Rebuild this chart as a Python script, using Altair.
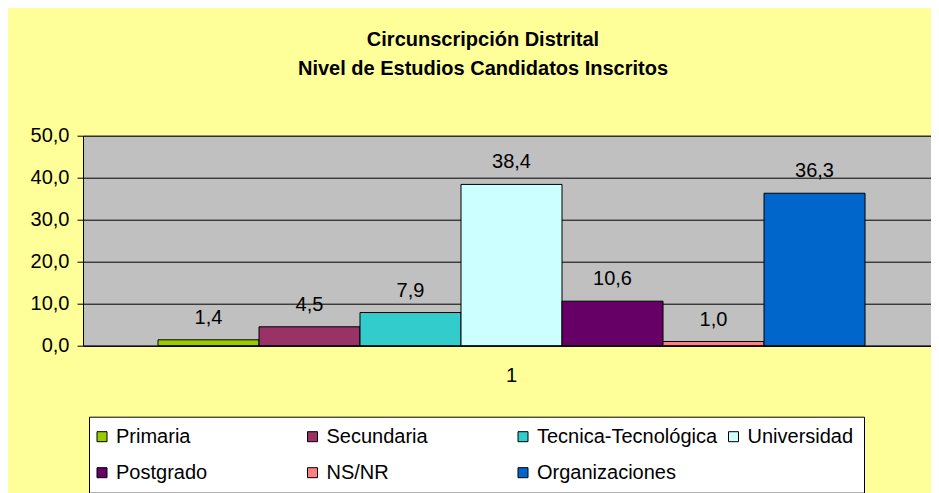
import altair as alt
import pandas as pd

# ---- data ----
categories = ["Primaria", "Secundaria", "Tecnica-Tecnológica", "Universidad",
              "Postgrado", "NS/NR", "Organizaciones"]
values = [1.4, 4.5, 7.9, 38.4, 10.6, 1.0, 36.3]
colors = ["#99CC00", "#993366", "#33CCCC", "#CCFFFF", "#660066", "#FF8080", "#0066CC"]
group_label = ["1"] * len(categories)
y_ticks = [0, 10, 20, 30, 40, 50]
title_lines = ["Circunscripción Distrital", "Nivel de Estudios Candidatos Inscritos"]

df = pd.DataFrame({"grupo": group_label, "nivel": categories, "valor": values})

FONT = "Liberation Sans"

base = alt.Chart(df).encode(
    x=alt.X(
        "grupo:N",
        scale=alt.Scale(paddingInner=0, paddingOuter=0.0997, align=0.532),
        axis=alt.Axis(title=None, labelAngle=0, ticks=False, labelPadding=20,
                      domainColor="black", labelFontSize=20, labelColor="black"),
    ),
    xOffset=alt.XOffset(
        "nivel:N", sort=categories,
        scale=alt.Scale(domain=categories, paddingInner=0, paddingOuter=0),
    ),
)

bars = base.mark_bar(stroke="black", strokeWidth=1).encode(
    y=alt.Y(
        "valor:Q",
        scale=alt.Scale(domain=[0, 50]),
        axis=alt.Axis(values=y_ticks, title=None, grid=True, gridColor="black",
                      gridWidth=1, gridOpacity=1, tickSize=6, tickColor="black",
                      domainColor="black", labelPadding=8, labelFontSize=20,
                      labelColor="black",
                      labelExpr="replace(format(datum.value, '.1f'), '.', ',')"),
    ),
    color=alt.Color(
        "nivel:N",
        scale=alt.Scale(domain=categories, range=colors),
        legend=alt.Legend(
            title=None, orient="none", legendX=6, legendY=281, columns=4,
            direction="horizontal",
            gridAlign="all", symbolType="square", symbolSize=100,
            symbolStrokeColor="black", symbolStrokeWidth=1, symbolOpacity=1,
            symbolOffset=-7,
            labelFontSize=20, labelOffset=4, labelLimit=400, labelColor="black",
            columnPadding=8.5, rowPadding=16, padding=10,
            fillColor="white", strokeColor="black",
        ),
    ),
)

labels = base.mark_text(fontSize=20, dy=-22, color="black").encode(
    y="valor:Q",
    text="etiqueta:N",
).transform_calculate(etiqueta="replace(format(datum.valor, '.1f'), '.', ',')")

chart = alt.layer(bars, labels).properties(
    width=848,
    height=210,
    autosize=alt.AutoSizeParams(type="none"),
    padding={"left": 75, "top": 127.7, "right": 0, "bottom": 150.3},
    title=alt.TitleParams(text=title_lines, fontSize=20, fontWeight="bold", font=FONT,
                          lineHeight=29, dx=-24, offset=47, anchor="middle",
                          color="black"),
).configure(
    background="#FFFF99",
    font=FONT,
).configure_view(
    fill="#C0C0C0",
    stroke="#808080",
    strokeWidth=1,
)

chart.save("out.html", embed_options={"renderer": "svg", "actions": False})
